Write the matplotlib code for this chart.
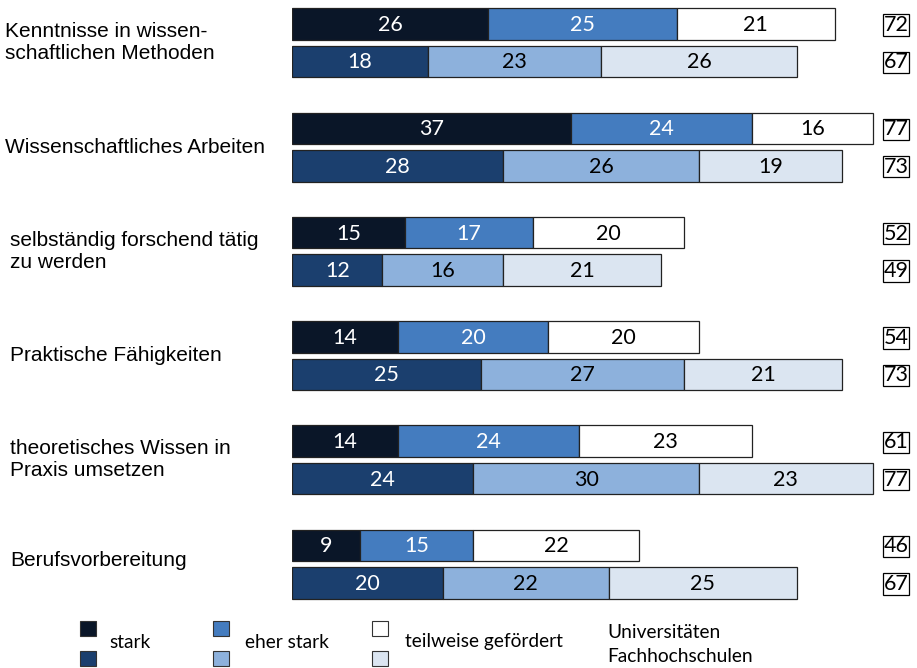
import matplotlib
matplotlib.use("Agg")
import matplotlib.pyplot as plt
from matplotlib.patches import Rectangle
from matplotlib.transforms import blended_transform_factory

categories = [
    "Kenntnisse in wissen-\nschaftlichen Methoden",
    "Wissenschaftliches Arbeiten",
    "selbständig forschend tätig\nzu werden",
    "Praktische Fähigkeiten",
    "theoretisches Wissen in\nPraxis umsetzen",
    "Berufsvorbereitung",
]
uni_stark = [26, 37, 15, 14, 14, 9]
uni_eher = [25, 24, 17, 20, 24, 15]
uni_teil = [21, 16, 20, 20, 23, 22]
fh_stark = [18, 28, 12, 25, 24, 20]
fh_eher = [23, 26, 16, 27, 30, 22]
fh_teil = [26, 19, 21, 21, 23, 25]
legend_labels = ["stark", "eher stark", "teilweise gefördert"]
group_labels = ["Universitäten", "Fachhochschulen"]

uni_colors = ["#0a1628", "#447cbf", "#ffffff"]
fh_colors = ["#1b3f6e", "#8db1dc", "#dbe5f1"]
uni_text = ["white", "white", "black"]
fh_text = ["white", "black", "black"]

W, H = 917, 668
fig = plt.figure(figsize=(W / 100, H / 100), dpi=100)

# axes: x=0 at pixel 292, 7.54 px per unit; y in pixel units (top = 0)
left_px, top_px, bottom_px = 292, 0, 610
units = 80
ax = fig.add_axes([left_px / W, 1 - bottom_px / H, units * 7.54 / W, (bottom_px - top_px) / H])
ax.set_xlim(0, units)
ax.set_ylim(bottom_px, top_px)
ax.axis("off")

row_step = 104.3
first_row = 24
fh_offset = 37.5
bar_h = 31.5

num_font = ["Lato", "DejaVu Sans"]
lab_font = ["Liberation Sans", "DejaVu Sans"]

uni_y = [first_row + i * row_step for i in range(len(categories))]
fh_y = [y + fh_offset for y in uni_y]

def draw_row(y, series, colors, tcolors):
    left = [0] * len(y)
    for vals, c, tc in zip(series, colors, tcolors):
        ax.barh(y, vals, left=left, height=bar_h, color=c, edgecolor="#222222", linewidth=0.9)
        for yy, l, v in zip(y, left, vals):
            ax.text(l + v / 2, yy + 1, str(v), ha="center", va="center", color=tc,
                    fontsize=15.5, family=num_font)
        left = [a + b for a, b in zip(left, vals)]
    return left

uni_tot = draw_row(uni_y, [uni_stark, uni_eher, uni_teil], uni_colors, uni_text)
fh_tot = draw_row(fh_y, [fh_stark, fh_eher, fh_teil], fh_colors, fh_text)

tr = blended_transform_factory(fig.transFigure, ax.transData)
for yy, t in list(zip(uni_y, uni_tot)) + list(zip(fh_y, fh_tot)):
    ax.text(896 / W, yy + 1, str(t), transform=tr, ha="center", va="center",
            fontsize=15.5, family=num_font,
            bbox=dict(boxstyle="square,pad=0.03", fc="white", ec="black", lw=0.9))

label_x = [5, 5, 10, 10, 10, 10]
for i, (cat, lx) in enumerate(zip(categories, label_x)):
    ax.text(lx / W, uni_y[i] + fh_offset / 2 - (4 if i == 5 else 0), cat, transform=tr,
            ha="left", va="center", fontsize=15, family=lab_font, linespacing=1.2)

# legend
leg_x = [80, 213, 372]
text_x = [109, 245, 405]
for lx, tx, lab, cu, cf in zip(leg_x, text_x, legend_labels, uni_colors, fh_colors):
    for py, c in ((621, cu), (651, cf)):
        fig.add_artist(Rectangle((lx / W, 1 - (py + 15) / H), 16 / W, 15 / H,
                                 transform=fig.transFigure, fc=c, ec="#333333", lw=0.8))
    fig.text(tx / W, 1 - 642 / H, lab, ha="left", va="center", fontsize=13.8, family=num_font)
fig.text(607 / W, 1 - 632 / H, group_labels[0], ha="left", va="center", fontsize=13.8, family=num_font)
fig.text(607 / W, 1 - 657 / H, group_labels[1], ha="left", va="center", fontsize=13.8, family=num_font)

fig.savefig("out.png", dpi=100, facecolor="white")
